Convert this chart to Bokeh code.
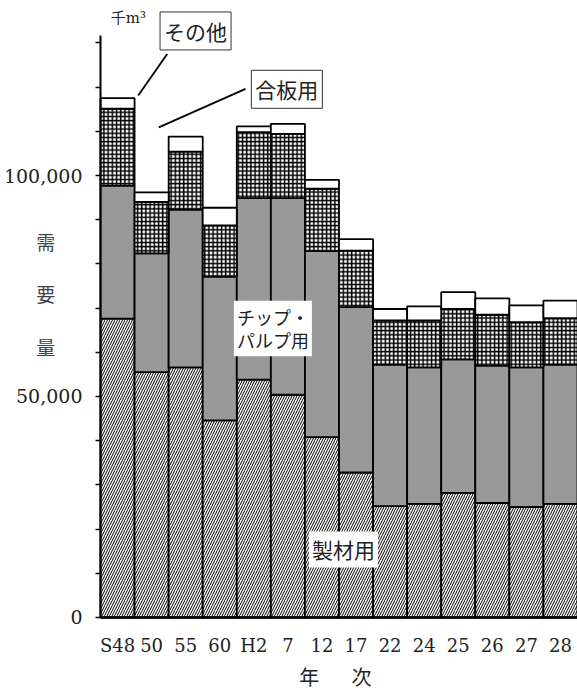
from bokeh.plotting import figure
from bokeh.models import ColumnDataSource, Range1d, FixedTicker, Label, LinearAxis
from bokeh.embed import file_html
from bokeh.resources import INLINE

# Data (thousand m3)
years = ["S48", "50", "55", "60", "H2", "7", "12", "17", "22", "24", "25", "26", "27", "28"]
seizai = [67600, 55500, 56600, 44600, 53800, 50400, 40800, 32800, 25200, 25700, 28200, 25900, 25000, 25700]
chip = [30100, 26900, 35700, 32500, 41100, 44500, 42100, 37400, 32000, 30900, 30200, 31100, 31600, 31500]
goban = [17400, 11600, 13100, 11600, 14900, 14500, 14100, 12800, 10000, 10600, 11400, 11500, 10200, 10500]
other = [2400, 2200, 3400, 4000, 1300, 2300, 2000, 2600, 2600, 3200, 3800, 3700, 3800, 4000]
y_ticks = list(range(0, 140000, 10000))
y_tick_labels = {0: "0", 50000: "50,000", 100000: "100,000"}
y_axis_top = 131700

xs = list(range(len(years)))
source = ColumnDataSource(dict(x=xs, seizai=seizai, chip=chip, goban=goban, other=other))

W, H = 577, 693
p = figure(width=W, height=H, output_backend="svg", toolbar_location=None,
           x_range=Range1d(-3.435, len(years) - 0.5), y_range=Range1d(-17195, 139593),
           x_axis_location=None, y_axis_location=None,
           min_border=0, min_border_left=0, min_border_right=0,
           min_border_top=0, min_border_bottom=0)
p.background_fill_color = "white"
p.border_fill_color = "white"
p.outline_line_color = None
p.xgrid.grid_line_color = None
p.ygrid.grid_line_color = None

p.vbar_stack(["seizai", "chip", "goban", "other"], x="x", width=1.0, source=source,
             fill_color=["white", "#999999", "white", "white"],
             hatch_pattern=["right_diagonal_line", " ", "cross", " "],
             hatch_color="black", hatch_scale=[5, 4, 4.2, 4], hatch_weight=[1.0, 1, 1.5, 1],
             line_color="black", line_width=1.8)

SERIF = "DejaVu Serif"
JP = "Noto Sans CJK JP"

# y axis at the left edge of the bars
ya = LinearAxis(fixed_location=-0.5, bounds=(0, y_axis_top))
ya.ticker = FixedTicker(ticks=y_ticks)
ya.major_label_overrides = {t: y_tick_labels.get(t, "") for t in y_ticks}
ya.minor_tick_line_color = None
ya.major_tick_out = 5
ya.major_tick_in = 0
ya.major_tick_line_width = 1.5
ya.axis_line_width = 2
ya.axis_line_color = "black"
ya.major_label_standoff = 13
ya.major_label_text_font = SERIF
ya.major_label_text_font_size = "19px"
ya.major_label_text_color = "#222222"
p.add_layout(ya, "left")

# x axis at zero
xa = LinearAxis(fixed_location=0, bounds=(-0.5, len(years) - 0.5))
xa.ticker = FixedTicker(ticks=xs)
xa.major_label_overrides = {i: y for i, y in zip(xs, years)}
xa.minor_tick_line_color = None
xa.major_tick_out = 0
xa.major_tick_in = 0
xa.axis_line_width = 2.5
xa.axis_line_color = "black"
xa.major_label_standoff = 18
xa.major_label_text_font = SERIF
xa.major_label_text_font_size = "18px"
xa.major_label_text_color = "#222222"
p.add_layout(xa, "below")

def lab(x, y, text, size="21px", font=JP, box=False, bg=None, color="#222222", lh=1.2):
    kw = dict(x=x, y=y, text=text, text_font=font, text_font_size=size,
              text_align="center", text_baseline="middle", text_color=color,
              text_line_height=lh)
    if bg:
        kw["background_fill_color"] = bg
    if box:
        kw["border_line_color"] = "#333333"
        kw["border_line_width"] = 1
        kw["padding"] = 4
    elif bg:
        kw["padding"] = 3
    p.add_layout(Label(**kw))

# unit
lab(0.32, 135700, "千m³", size="15px", font="DejaVu Serif, Noto Sans CJK JP")
# y axis title (vertical)
lab(-2.11, 85100, "需", size="19px", color="#444444")
lab(-2.11, 73200, "要", size="19px", color="#444444")
lab(-2.11, 61200, "量", size="19px", color="#444444")
# x axis title
lab(5.63, -13400, "年", size="20px")
lab(7.16, -13400, "次", size="20px")

# leader lines
p.segment(x0=[1.458, 3.756], y0=[127500, 119600], x1=[0.607, 1.211], y1=[118100, 110900],
          line_color="black", line_width=1.8)

# series labels
lab(2.29, 132700, "その他", size="21px", box=True, bg="white")
lab(4.97, 119500, "合板用", size="21px", box=True, bg="white")
lab(4.56, 65400, "チップ・\nパルプ用", size="18px", bg="white", lh=0.9)
lab(6.63, 15400, "製材用", size="21px", bg="white")

open("out.html", "w").write(file_html(p, INLINE))
